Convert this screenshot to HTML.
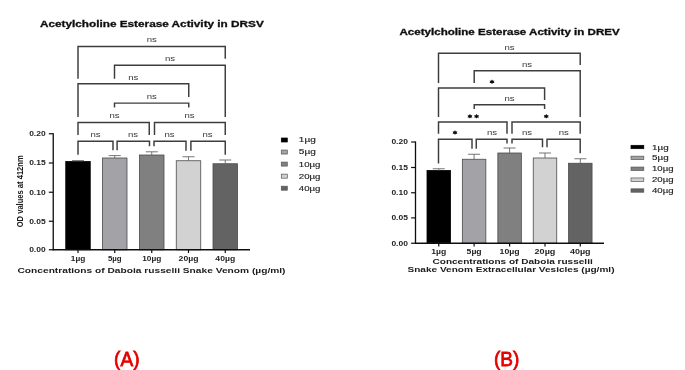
<!DOCTYPE html>
<html><head><meta charset="utf-8"><title>Acetylcholine Esterase Activity</title>
<style>
html,body{margin:0;padding:0;background:#fff;}
body{width:685px;height:370px;overflow:hidden;font-family:"Liberation Sans",sans-serif;}
svg{display:block;font-family:"Liberation Sans",sans-serif;}
</style></head><body>
<svg width="685" height="370" viewBox="0 0 685 370">
<rect x="0" y="0" width="685" height="370" fill="#ffffff"/>
<defs><filter id="soft" x="-2%" y="-2%" width="104%" height="104%"><feGaussianBlur stdDeviation="0.4"/></filter></defs>
<g filter="url(#soft)">
<rect x="65.75" y="161.5" width="24.5" height="88.25" fill="#000000" stroke="#000" stroke-width="0.8"/>
<rect x="102.5" y="158" width="24.5" height="91.75" fill="#a3a3a7" stroke="#4a4a4a" stroke-width="0.8"/>
<rect x="139.5" y="155" width="24.5" height="94.75" fill="#808080" stroke="#4a4a4a" stroke-width="0.8"/>
<rect x="176.25" y="160.75" width="24.5" height="89.0" fill="#d2d2d2" stroke="#4a4a4a" stroke-width="0.8"/>
<rect x="213.0" y="163.75" width="24.5" height="86.0" fill="#636363" stroke="#4a4a4a" stroke-width="0.8"/>
<line x1="78" y1="161.5" x2="78" y2="160.6" stroke="#666" stroke-width="0.9"/>
<line x1="72" y1="160.6" x2="84" y2="160.6" stroke="#666" stroke-width="0.9"/>
<line x1="114.75" y1="158" x2="114.75" y2="155.6" stroke="#666" stroke-width="0.9"/>
<line x1="108.75" y1="155.6" x2="120.75" y2="155.6" stroke="#666" stroke-width="0.9"/>
<line x1="151.75" y1="155" x2="151.75" y2="151.8" stroke="#666" stroke-width="0.9"/>
<line x1="145.75" y1="151.8" x2="157.75" y2="151.8" stroke="#666" stroke-width="0.9"/>
<line x1="188.5" y1="160.75" x2="188.5" y2="156.75" stroke="#666" stroke-width="0.9"/>
<line x1="182.5" y1="156.75" x2="194.5" y2="156.75" stroke="#666" stroke-width="0.9"/>
<line x1="225.25" y1="163.75" x2="225.25" y2="160" stroke="#666" stroke-width="0.9"/>
<line x1="219.25" y1="160" x2="231.25" y2="160" stroke="#666" stroke-width="0.9"/>
<line x1="53.25" y1="133.15" x2="53.25" y2="250.35" stroke="#111" stroke-width="1.3"/>
<line x1="52.65" y1="249.75" x2="250" y2="249.75" stroke="#111" stroke-width="1.3"/>
<line x1="48.85" y1="133.75" x2="53.25" y2="133.75" stroke="#111" stroke-width="1.2"/>
<line x1="48.85" y1="163" x2="53.25" y2="163" stroke="#111" stroke-width="1.2"/>
<line x1="48.85" y1="192.25" x2="53.25" y2="192.25" stroke="#111" stroke-width="1.2"/>
<line x1="48.85" y1="221.25" x2="53.25" y2="221.25" stroke="#111" stroke-width="1.2"/>
<line x1="48.85" y1="249.75" x2="53.25" y2="249.75" stroke="#111" stroke-width="1.2"/>
<line x1="78" y1="249.75" x2="78" y2="252.95" stroke="#111" stroke-width="1.2"/>
<line x1="114.75" y1="249.75" x2="114.75" y2="252.95" stroke="#111" stroke-width="1.2"/>
<line x1="151.75" y1="249.75" x2="151.75" y2="252.95" stroke="#111" stroke-width="1.2"/>
<line x1="188.5" y1="249.75" x2="188.5" y2="252.95" stroke="#111" stroke-width="1.2"/>
<line x1="225.25" y1="249.75" x2="225.25" y2="252.95" stroke="#111" stroke-width="1.2"/>
<text x="45.65" y="136.05" font-size="7.2" font-weight="bold" text-anchor="end" fill="#222" textLength="16.5" lengthAdjust="spacingAndGlyphs">0.20</text>
<text x="45.65" y="165.3" font-size="7.2" font-weight="bold" text-anchor="end" fill="#222" textLength="16.5" lengthAdjust="spacingAndGlyphs">0.15</text>
<text x="45.65" y="194.55" font-size="7.2" font-weight="bold" text-anchor="end" fill="#222" textLength="16.5" lengthAdjust="spacingAndGlyphs">0.10</text>
<text x="45.65" y="223.55" font-size="7.2" font-weight="bold" text-anchor="end" fill="#222" textLength="16.5" lengthAdjust="spacingAndGlyphs">0.05</text>
<text x="45.65" y="252.05" font-size="7.2" font-weight="bold" text-anchor="end" fill="#222" textLength="16.5" lengthAdjust="spacingAndGlyphs">0.00</text>
<text x="70.8" y="261.3" font-size="7.2" font-weight="bold" text-anchor="start" fill="#222" textLength="14.4" lengthAdjust="spacingAndGlyphs">1µg</text>
<text x="107.95" y="261.3" font-size="7.2" font-weight="bold" text-anchor="start" fill="#222" textLength="13.6" lengthAdjust="spacingAndGlyphs">5µg</text>
<text x="142.25" y="261.3" font-size="7.2" font-weight="bold" text-anchor="start" fill="#222" textLength="19" lengthAdjust="spacingAndGlyphs">10µg</text>
<text x="178.6" y="261.3" font-size="7.2" font-weight="bold" text-anchor="start" fill="#222" textLength="19.8" lengthAdjust="spacingAndGlyphs">20µg</text>
<text x="215.35" y="261.3" font-size="7.2" font-weight="bold" text-anchor="start" fill="#222" textLength="19.8" lengthAdjust="spacingAndGlyphs">40µg</text>
<text x="40" y="27" font-size="9" font-weight="bold" text-anchor="start" fill="#111" textLength="223.75" lengthAdjust="spacingAndGlyphs" stroke="#111" stroke-width="0.3">Acetylcholine Esterase Activity in DRSV</text>
<text x="17.5" y="273.4" font-size="8" font-weight="bold" text-anchor="start" fill="#1a1a1a" textLength="268" lengthAdjust="spacingAndGlyphs">Concentrations of Daboia russelii Snake Venom (µg/ml)</text>
<text transform="translate(22.9,191.3) rotate(-90)" font-size="9" font-weight="bold" text-anchor="middle" fill="#1a1a1a" textLength="72" lengthAdjust="spacingAndGlyphs">OD values at 412nm</text>
<path d="M78 78.75 V46.4 H225.25 V58.75" fill="none" stroke="#3c3c3c" stroke-width="1.45" stroke-linejoin="miter"/>
<path d="M114.5 78.75 V65.3 H225.25 V117" fill="none" stroke="#3c3c3c" stroke-width="1.45" stroke-linejoin="miter"/>
<path d="M78 117 V83.8 H188.75 V97" fill="none" stroke="#3c3c3c" stroke-width="1.45" stroke-linejoin="miter"/>
<path d="M114.5 107.6 V103.1 H188.75 V107.6" fill="none" stroke="#3c3c3c" stroke-width="1.45" stroke-linejoin="miter"/>
<path d="M78 135 V122.5 H149.25 V135" fill="none" stroke="#3c3c3c" stroke-width="1.45" stroke-linejoin="miter"/>
<path d="M154.5 135 V122.5 H225.25 V135" fill="none" stroke="#3c3c3c" stroke-width="1.45" stroke-linejoin="miter"/>
<path d="M78 154.7 V141.2 H113 V150.2" fill="none" stroke="#3c3c3c" stroke-width="1.45" stroke-linejoin="miter"/>
<path d="M117.1 150.2 V141.2 H149.5 V146.2" fill="none" stroke="#3c3c3c" stroke-width="1.45" stroke-linejoin="miter"/>
<path d="M154 146.2 V141.2 H186 V150.8" fill="none" stroke="#3c3c3c" stroke-width="1.45" stroke-linejoin="miter"/>
<path d="M190.9 150.8 V141.2 H225.25 V154.7" fill="none" stroke="#3c3c3c" stroke-width="1.45" stroke-linejoin="miter"/>
<text x="146.65" y="42.0" font-size="7.5" font-weight="normal" text-anchor="start" fill="#3a3a3a" textLength="10.2" lengthAdjust="spacingAndGlyphs">ns</text>
<text x="164.9" y="60.8" font-size="7.5" font-weight="normal" text-anchor="start" fill="#3a3a3a" textLength="10.2" lengthAdjust="spacingAndGlyphs">ns</text>
<text x="128.15" y="80.0" font-size="7.5" font-weight="normal" text-anchor="start" fill="#3a3a3a" textLength="10.2" lengthAdjust="spacingAndGlyphs">ns</text>
<text x="146.65" y="99.0" font-size="7.5" font-weight="normal" text-anchor="start" fill="#3a3a3a" textLength="10.2" lengthAdjust="spacingAndGlyphs">ns</text>
<text x="109.4" y="118.0" font-size="7.5" font-weight="normal" text-anchor="start" fill="#3a3a3a" textLength="10.2" lengthAdjust="spacingAndGlyphs">ns</text>
<text x="184.4" y="118.0" font-size="7.5" font-weight="normal" text-anchor="start" fill="#3a3a3a" textLength="10.2" lengthAdjust="spacingAndGlyphs">ns</text>
<text x="90.4" y="137.2" font-size="7.5" font-weight="normal" text-anchor="start" fill="#3a3a3a" textLength="10.2" lengthAdjust="spacingAndGlyphs">ns</text>
<text x="127.9" y="137.2" font-size="7.5" font-weight="normal" text-anchor="start" fill="#3a3a3a" textLength="10.2" lengthAdjust="spacingAndGlyphs">ns</text>
<text x="164.4" y="137.2" font-size="7.5" font-weight="normal" text-anchor="start" fill="#3a3a3a" textLength="10.2" lengthAdjust="spacingAndGlyphs">ns</text>
<text x="202.4" y="137.2" font-size="7.5" font-weight="normal" text-anchor="start" fill="#3a3a3a" textLength="10.2" lengthAdjust="spacingAndGlyphs">ns</text>
<rect x="281.3" y="138.0" width="6.0" height="4" fill="#000000" stroke="#000" stroke-width="0.7"/>
<text x="298.8" y="142.4" font-size="8" font-weight="normal" text-anchor="start" fill="#222" textLength="17.0" lengthAdjust="spacingAndGlyphs" stroke="#222" stroke-width="0.15">1µg</text>
<rect x="281.3" y="150.05" width="6.0" height="4" fill="#a3a3a7" stroke="#555" stroke-width="0.7"/>
<text x="298.8" y="154.45000000000002" font-size="8" font-weight="normal" text-anchor="start" fill="#222" textLength="17.0" lengthAdjust="spacingAndGlyphs" stroke="#222" stroke-width="0.15">5µg</text>
<rect x="281.3" y="162.1" width="6.0" height="4" fill="#808080" stroke="#555" stroke-width="0.7"/>
<text x="298.8" y="166.5" font-size="8" font-weight="normal" text-anchor="start" fill="#222" textLength="21.7" lengthAdjust="spacingAndGlyphs" stroke="#222" stroke-width="0.15">10µg</text>
<rect x="281.3" y="174.15" width="6.0" height="4" fill="#d2d2d2" stroke="#555" stroke-width="0.7"/>
<text x="298.8" y="178.55" font-size="8" font-weight="normal" text-anchor="start" fill="#222" textLength="21.7" lengthAdjust="spacingAndGlyphs" stroke="#222" stroke-width="0.15">20µg</text>
<rect x="281.3" y="186.2" width="6.0" height="4" fill="#636363" stroke="#555" stroke-width="0.7"/>
<text x="298.8" y="190.6" font-size="8" font-weight="normal" text-anchor="start" fill="#222" textLength="21.7" lengthAdjust="spacingAndGlyphs" stroke="#222" stroke-width="0.15">40µg</text>
<rect x="427.0" y="170.5" width="23.5" height="72.75" fill="#000000" stroke="#000" stroke-width="0.8"/>
<rect x="462.35" y="159.25" width="23.5" height="84.0" fill="#a3a3a7" stroke="#4a4a4a" stroke-width="0.8"/>
<rect x="497.85" y="153" width="23.5" height="90.25" fill="#808080" stroke="#4a4a4a" stroke-width="0.8"/>
<rect x="533.25" y="158" width="23.5" height="85.25" fill="#d2d2d2" stroke="#4a4a4a" stroke-width="0.8"/>
<rect x="568.55" y="163.25" width="23.5" height="80.0" fill="#636363" stroke="#4a4a4a" stroke-width="0.8"/>
<line x1="438.75" y1="170.5" x2="438.75" y2="168.75" stroke="#666" stroke-width="0.9"/>
<line x1="432.75" y1="168.75" x2="444.75" y2="168.75" stroke="#666" stroke-width="0.9"/>
<line x1="474.1" y1="159.25" x2="474.1" y2="154.25" stroke="#666" stroke-width="0.9"/>
<line x1="468.1" y1="154.25" x2="480.1" y2="154.25" stroke="#666" stroke-width="0.9"/>
<line x1="509.6" y1="153" x2="509.6" y2="148" stroke="#666" stroke-width="0.9"/>
<line x1="503.6" y1="148" x2="515.6" y2="148" stroke="#666" stroke-width="0.9"/>
<line x1="545" y1="158" x2="545" y2="153" stroke="#666" stroke-width="0.9"/>
<line x1="539" y1="153" x2="551" y2="153" stroke="#666" stroke-width="0.9"/>
<line x1="580.3" y1="163.25" x2="580.3" y2="158.75" stroke="#666" stroke-width="0.9"/>
<line x1="574.3" y1="158.75" x2="586.3" y2="158.75" stroke="#666" stroke-width="0.9"/>
<line x1="415.5" y1="141.4" x2="415.5" y2="243.85" stroke="#111" stroke-width="1.3"/>
<line x1="414.9" y1="243.25" x2="604" y2="243.25" stroke="#111" stroke-width="1.3"/>
<line x1="411.1" y1="142" x2="415.5" y2="142" stroke="#111" stroke-width="1.2"/>
<line x1="411.1" y1="167.5" x2="415.5" y2="167.5" stroke="#111" stroke-width="1.2"/>
<line x1="411.1" y1="192.75" x2="415.5" y2="192.75" stroke="#111" stroke-width="1.2"/>
<line x1="411.1" y1="217.9" x2="415.5" y2="217.9" stroke="#111" stroke-width="1.2"/>
<line x1="411.1" y1="243.25" x2="415.5" y2="243.25" stroke="#111" stroke-width="1.2"/>
<line x1="438.75" y1="243.25" x2="438.75" y2="246.45" stroke="#111" stroke-width="1.2"/>
<line x1="474.1" y1="243.25" x2="474.1" y2="246.45" stroke="#111" stroke-width="1.2"/>
<line x1="509.6" y1="243.25" x2="509.6" y2="246.45" stroke="#111" stroke-width="1.2"/>
<line x1="545" y1="243.25" x2="545" y2="246.45" stroke="#111" stroke-width="1.2"/>
<line x1="580.3" y1="243.25" x2="580.3" y2="246.45" stroke="#111" stroke-width="1.2"/>
<text x="407.9" y="144.3" font-size="7.2" font-weight="bold" text-anchor="end" fill="#222" textLength="16.5" lengthAdjust="spacingAndGlyphs">0.20</text>
<text x="407.9" y="169.8" font-size="7.2" font-weight="bold" text-anchor="end" fill="#222" textLength="16.5" lengthAdjust="spacingAndGlyphs">0.15</text>
<text x="407.9" y="195.05" font-size="7.2" font-weight="bold" text-anchor="end" fill="#222" textLength="16.5" lengthAdjust="spacingAndGlyphs">0.10</text>
<text x="407.9" y="220.20000000000002" font-size="7.2" font-weight="bold" text-anchor="end" fill="#222" textLength="16.5" lengthAdjust="spacingAndGlyphs">0.05</text>
<text x="407.9" y="245.55" font-size="7.2" font-weight="bold" text-anchor="end" fill="#222" textLength="16.5" lengthAdjust="spacingAndGlyphs">0.00</text>
<text x="431.25" y="253.7" font-size="7.2" font-weight="bold" text-anchor="start" fill="#222" textLength="15" lengthAdjust="spacingAndGlyphs">1µg</text>
<text x="466.6" y="253.7" font-size="7.2" font-weight="bold" text-anchor="start" fill="#222" textLength="15" lengthAdjust="spacingAndGlyphs">5µg</text>
<text x="499.6" y="253.7" font-size="7.2" font-weight="bold" text-anchor="start" fill="#222" textLength="20" lengthAdjust="spacingAndGlyphs">10µg</text>
<text x="534.6" y="253.7" font-size="7.2" font-weight="bold" text-anchor="start" fill="#222" textLength="20.8" lengthAdjust="spacingAndGlyphs">20µg</text>
<text x="570.05" y="253.7" font-size="7.2" font-weight="bold" text-anchor="start" fill="#222" textLength="20.5" lengthAdjust="spacingAndGlyphs">40µg</text>
<text x="399.5" y="35" font-size="8.6" font-weight="bold" text-anchor="start" fill="#111" textLength="220.25" lengthAdjust="spacingAndGlyphs" stroke="#111" stroke-width="0.3">Acetylcholine Esterase Activity in DREV</text>
<text x="432.5" y="264.0" font-size="7.9" font-weight="bold" text-anchor="start" fill="#1a1a1a" textLength="160.25" lengthAdjust="spacingAndGlyphs">Concentrations of Daboia russelii</text>
<text x="407.5" y="272.1" font-size="7.9" font-weight="bold" text-anchor="start" fill="#1a1a1a" textLength="207" lengthAdjust="spacingAndGlyphs">Snake Venom Extracellular Vesicles (µg/ml)</text>
<path d="M438.5 83 V53.3 H580.2 V65" fill="none" stroke="#3c3c3c" stroke-width="1.45" stroke-linejoin="miter"/>
<path d="M474.2 83 V70.8 H580.2 V117" fill="none" stroke="#3c3c3c" stroke-width="1.45" stroke-linejoin="miter"/>
<path d="M438.5 117 V88 H544.6 V100" fill="none" stroke="#3c3c3c" stroke-width="1.45" stroke-linejoin="miter"/>
<path d="M474.2 108.9 V104.7 H544.6 V108.9" fill="none" stroke="#3c3c3c" stroke-width="1.45" stroke-linejoin="miter"/>
<path d="M438.5 133.75 V122 H507 V133.75" fill="none" stroke="#3c3c3c" stroke-width="1.45" stroke-linejoin="miter"/>
<path d="M512 133.75 V122 H580.2 V133.75" fill="none" stroke="#3c3c3c" stroke-width="1.45" stroke-linejoin="miter"/>
<path d="M438.5 163.5 V139.2 H472 V148.8" fill="none" stroke="#3c3c3c" stroke-width="1.45" stroke-linejoin="miter"/>
<path d="M476.25 148.8 V139.2 H507 V143.6" fill="none" stroke="#3c3c3c" stroke-width="1.45" stroke-linejoin="miter"/>
<path d="M512 143.6 V139.2 H542.5 V147.2" fill="none" stroke="#3c3c3c" stroke-width="1.45" stroke-linejoin="miter"/>
<path d="M547 147.2 V139.2 H580.2 V153.3" fill="none" stroke="#3c3c3c" stroke-width="1.45" stroke-linejoin="miter"/>
<text x="504.4" y="49.5" font-size="7.5" font-weight="normal" text-anchor="start" fill="#3a3a3a" textLength="10.2" lengthAdjust="spacingAndGlyphs">ns</text>
<text x="521.9" y="66.8" font-size="7.5" font-weight="normal" text-anchor="start" fill="#3a3a3a" textLength="10.2" lengthAdjust="spacingAndGlyphs">ns</text>
<text x="504.4" y="100.8" font-size="7.5" font-weight="normal" text-anchor="start" fill="#3a3a3a" textLength="10.2" lengthAdjust="spacingAndGlyphs">ns</text>
<text x="486.9" y="135.0" font-size="7.5" font-weight="normal" text-anchor="start" fill="#3a3a3a" textLength="10.2" lengthAdjust="spacingAndGlyphs">ns</text>
<text x="521.9" y="135.0" font-size="7.5" font-weight="normal" text-anchor="start" fill="#3a3a3a" textLength="10.2" lengthAdjust="spacingAndGlyphs">ns</text>
<text x="558.65" y="135.0" font-size="7.5" font-weight="normal" text-anchor="start" fill="#3a3a3a" textLength="10.2" lengthAdjust="spacingAndGlyphs">ns</text>
<polygon points="492.00,79.61 492.87,80.67 494.47,80.73 493.74,81.85 494.47,82.97 492.87,83.03 492.00,84.09 491.13,83.03 489.53,82.97 490.26,81.85 489.53,80.73 491.13,80.67" fill="#0a0a0a"/>
<polygon points="469.95,114.11 470.82,115.17 472.42,115.23 471.69,116.35 472.42,117.47 470.82,117.53 469.95,118.59 469.08,117.53 467.48,117.47 468.21,116.35 467.48,115.23 469.08,115.17" fill="#0a0a0a"/>
<polygon points="476.55,114.11 477.42,115.17 479.02,115.23 478.29,116.35 479.02,117.47 477.42,117.53 476.55,118.59 475.68,117.53 474.08,117.47 474.81,116.35 474.08,115.23 475.68,115.17" fill="#0a0a0a"/>
<polygon points="546.25,114.11 547.12,115.17 548.72,115.23 547.99,116.35 548.72,117.47 547.12,117.53 546.25,118.59 545.38,117.53 543.78,117.47 544.51,116.35 543.78,115.23 545.38,115.17" fill="#0a0a0a"/>
<polygon points="455.00,130.36 455.87,131.42 457.47,131.48 456.74,132.60 457.47,133.72 455.87,133.78 455.00,134.84 454.13,133.78 452.53,133.72 453.26,132.60 452.53,131.48 454.13,131.42" fill="#0a0a0a"/>
<rect x="631" y="145.3" width="12.8" height="3.4" fill="#000000" stroke="#000" stroke-width="0.7"/>
<text x="652" y="149.5" font-size="8" font-weight="normal" text-anchor="start" fill="#222" textLength="16.6" lengthAdjust="spacingAndGlyphs" stroke="#222" stroke-width="0.15">1µg</text>
<rect x="631" y="156.18" width="12.8" height="3.4" fill="#a3a3a7" stroke="#555" stroke-width="0.7"/>
<text x="652" y="160.38" font-size="8" font-weight="normal" text-anchor="start" fill="#222" textLength="16.6" lengthAdjust="spacingAndGlyphs" stroke="#222" stroke-width="0.15">5µg</text>
<rect x="631" y="167.06" width="12.8" height="3.4" fill="#808080" stroke="#555" stroke-width="0.7"/>
<text x="652" y="171.26" font-size="8" font-weight="normal" text-anchor="start" fill="#222" textLength="21.6" lengthAdjust="spacingAndGlyphs" stroke="#222" stroke-width="0.15">10µg</text>
<rect x="631" y="177.94" width="12.8" height="3.4" fill="#d2d2d2" stroke="#555" stroke-width="0.7"/>
<text x="652" y="182.14" font-size="8" font-weight="normal" text-anchor="start" fill="#222" textLength="21.6" lengthAdjust="spacingAndGlyphs" stroke="#222" stroke-width="0.15">20µg</text>
<rect x="631" y="188.82000000000002" width="12.8" height="3.4" fill="#636363" stroke="#555" stroke-width="0.7"/>
<text x="652" y="193.02" font-size="8" font-weight="normal" text-anchor="start" fill="#222" textLength="21.6" lengthAdjust="spacingAndGlyphs" stroke="#222" stroke-width="0.15">40µg</text>
<text x="114.1" y="365.8" font-size="20.4" font-weight="normal" text-anchor="start" fill="#e60000" textLength="25.4" lengthAdjust="spacingAndGlyphs" stroke="#e60000" stroke-width="0.8">(A)</text>
<text x="494.0" y="365.8" font-size="20.4" font-weight="normal" text-anchor="start" fill="#e60000" textLength="25.4" lengthAdjust="spacingAndGlyphs" stroke="#e60000" stroke-width="0.8">(B)</text>
</g>
</svg>
</body></html>
